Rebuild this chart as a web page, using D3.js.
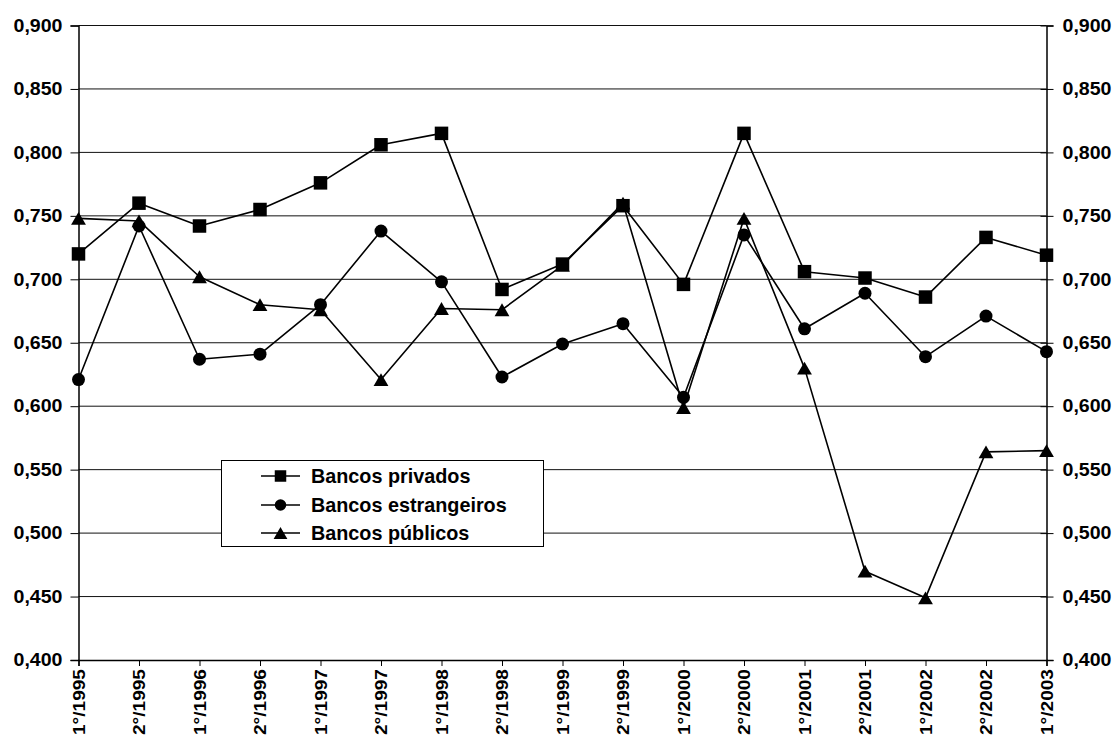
<!DOCTYPE html>
<html>
<head>
<meta charset="utf-8">
<script src="https://cdn.jsdelivr.net/npm/d3@7"></script>
<style>
  html, body { margin: 0; padding: 0; background: #fff; }
  svg { display: block; }
  text { font-family: Arial, "Liberation Sans", sans-serif; font-weight: bold; fill: #000; }
</style>
</head>
<body>
<svg id="chart" width="1116" height="740"></svg>
<script>
// Semesters on the x axis
const periods = ["1°/1995","2°/1995","1°/1996","2°/1996","1°/1997","2°/1997","1°/1998","2°/1998",
                 "1°/1999","2°/1999","1°/2000","2°/2000","1°/2001","2°/2001","1°/2002","2°/2002","1°/2003"];

// Series values per semester
const bancosPrivados     = [0.720,0.760,0.742,0.755,0.776,0.806,0.815,0.692,0.712,0.758,0.696,0.815,0.706,0.701,0.686,0.733,0.719];
const bancosEstrangeiros = [0.621,0.742,0.637,0.641,0.680,0.738,0.698,0.623,0.649,0.665,0.607,0.735,0.661,0.689,0.639,0.671,0.643];
const bancosPublicos     = [0.748,0.746,0.702,0.680,0.676,0.621,0.677,0.676,0.711,0.760,0.599,0.748,0.630,0.470,0.449,0.564,0.565];

// Y axis ticks
const yTicks = [0.400,0.450,0.500,0.550,0.600,0.650,0.700,0.750,0.800,0.850,0.900];

const seriesNames = ["Bancos privados","Bancos estrangeiros","Bancos públicos"];
const seriesShapes = ["square","circle","triangle"];

const series = [
  { name: seriesNames[0], shape: seriesShapes[0], values: bancosPrivados },
  { name: seriesNames[1], shape: seriesShapes[1], values: bancosEstrangeiros },
  { name: seriesNames[2], shape: seriesShapes[2], values: bancosPublicos }
];

const svg = d3.select("#chart");
const L = 78.5, R = 1046.5, T = 25.5, B = 660;

const x = d3.scalePoint().domain(periods).range([L, R]);
const y = d3.scaleLinear().domain([0.4, 0.9]).range([B, T]);

const ptBR = d3.formatLocale({ decimal: ",", thousands: ".", grouping: [3], currency: ["R$", ""] });
const fmt = ptBR.format(".3f");

// marker path generators
function markerPath(shape, s) {
  if (shape === "square") {
    const h = s / 2;
    return `M${-h},${-h}H${h}V${h}H${-h}Z`;
  }
  if (shape === "circle") {
    const r = s / 2;
    return `M${r},0A${r},${r} 0 1,1 ${-r},0A${r},${r} 0 1,1 ${r},0Z`;
  }
  const w = s * 1.06, hh = w * 0.866;
  return `M0,${-hh / 2}L${w / 2},${hh / 2}L${-w / 2},${hh / 2}Z`;
}
const markerSize = { square: 13.5, circle: 13, triangle: 14 };

// horizontal gridlines
svg.append("g")
  .selectAll("line")
  .data(yTicks.filter(v => v > 0.4))
  .join("line")
  .attr("x1", L).attr("x2", R)
  .attr("y1", d => y(d)).attr("y2", d => y(d))
  .attr("stroke", "#111").attr("stroke-width", 1);

const labelFont = "Arial, 'Liberation Sans', sans-serif";

// left axis
const leftAxis = d3.axisLeft(y).tickValues(yTicks).tickFormat(fmt).tickSize(8).tickPadding(8);
const gl = svg.append("g").attr("transform", `translate(${L},0)`).call(leftAxis);
gl.select(".domain").attr("stroke", "#000").attr("stroke-width", 1.5);
gl.selectAll(".tick line").attr("stroke", "#000").attr("stroke-width", 1);
gl.selectAll(".tick text")
  .attr("font-size", 18).attr("textLength", 49).attr("lengthAdjust", "spacingAndGlyphs")
  .attr("font-family", labelFont).attr("font-weight", "bold");

// right axis
const rightAxis = d3.axisRight(y).tickValues(yTicks).tickFormat(fmt).tickSize(7).tickPadding(9);
const gr = svg.append("g").attr("transform", `translate(${R},0)`).call(rightAxis);
gr.select(".domain").attr("stroke", "#000").attr("stroke-width", 1.5);
gr.selectAll(".tick line").attr("stroke", "#000").attr("stroke-width", 1).attr("x1", -6);
gr.selectAll(".tick text")
  .attr("font-size", 18).attr("textLength", 49).attr("lengthAdjust", "spacingAndGlyphs")
  .attr("font-family", labelFont).attr("font-weight", "bold");

// bottom axis
const bottomAxis = d3.axisBottom(x).tickSize(6).tickPadding(0);
const gb = svg.append("g").attr("transform", `translate(0,${B})`).call(bottomAxis);
gb.select(".domain").attr("stroke", "#000").attr("stroke-width", 1.5);
gb.selectAll(".tick line").attr("stroke", "#000").attr("stroke-width", 1);
gb.selectAll(".tick text")
  .attr("transform", "rotate(-90)")
  .attr("x", -9).attr("y", 0).attr("dy", "0.36em")
  .attr("text-anchor", "end")
  .attr("font-size", 16.5).attr("textLength", 66).attr("lengthAdjust", "spacingAndGlyphs")
  .attr("font-family", labelFont).attr("font-weight", "bold");

// series: lines then markers, drawn so the first series sits on top
const line = d3.line().x((d, i) => x(periods[i])).y(d => y(d));
const drawOrder = series.slice().reverse();

drawOrder.forEach(s => {
  const g = svg.append("g");
  g.append("path")
    .attr("d", line(s.values))
    .attr("fill", "none").attr("stroke", "#000").attr("stroke-width", 1.6)
    .attr("stroke-linejoin", "round");
  g.selectAll("path.mk")
    .data(s.values)
    .join("path")
    .attr("class", "mk")
    .attr("d", markerPath(s.shape, markerSize[s.shape]))
    .attr("transform", (d, i) => `translate(${x(periods[i])},${y(d)})`)
    .attr("fill", "#000");
});

// legend
const lg = svg.append("g");
lg.append("rect")
  .attr("x", 221.5).attr("y", 460.5).attr("width", 322).attr("height", 86)
  .attr("fill", "#fff").attr("stroke", "#000").attr("stroke-width", 1);
const rowY = [476, 505, 533];
series.forEach((s, i) => {
  lg.append("line")
    .attr("x1", 261).attr("x2", 300).attr("y1", rowY[i]).attr("y2", rowY[i])
    .attr("stroke", "#000").attr("stroke-width", 1.6);
  lg.append("path")
    .attr("d", markerPath(s.shape, s.shape === "triangle" ? 13 : 11.5))
    .attr("transform", `translate(280.5,${rowY[i]})`)
    .attr("fill", "#000");
  lg.append("text")
    .attr("x", 311).attr("y", rowY[i]).attr("dy", "0.35em")
    .attr("font-size", 19.8)
    .text(s.name);
});
</script>
</body>
</html>
